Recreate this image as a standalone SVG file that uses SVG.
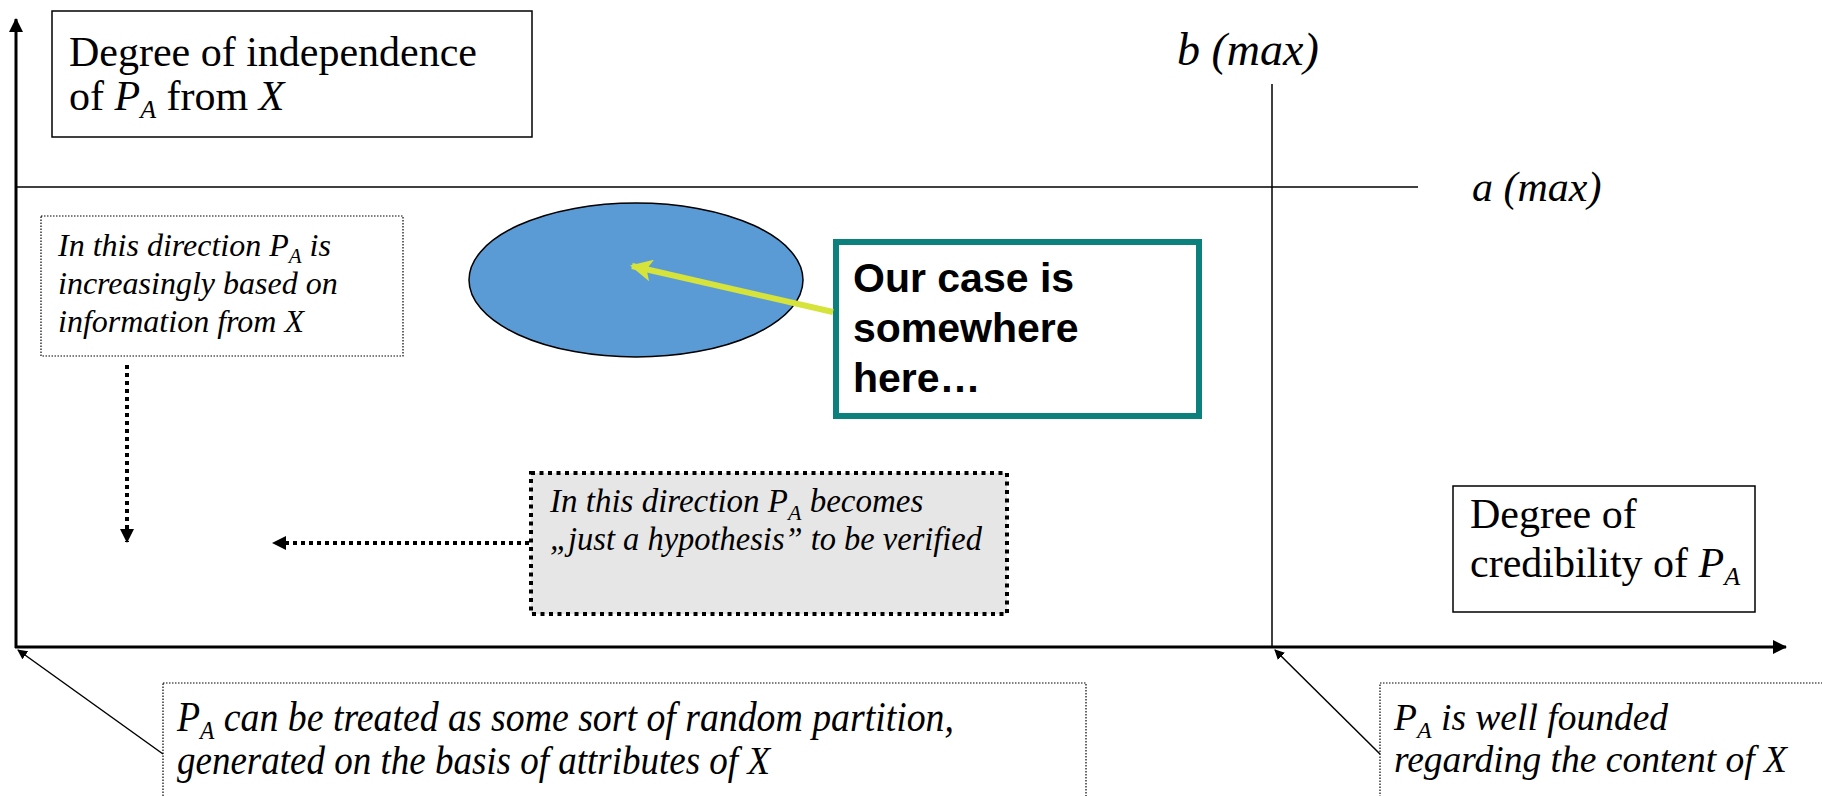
<svg xmlns="http://www.w3.org/2000/svg" width="1822" height="796" viewBox="0 0 1822 796">
<style>
.serif{font-family:"Liberation Serif","Times New Roman",serif;fill:#000}
.it{font-style:italic}
.sans{font-family:"Liberation Sans",Arial,sans-serif;font-weight:bold;fill:#000}
.box{fill:#fff;stroke:#000;stroke-width:1.5}
.dotbox{fill:#fff;stroke:#000;stroke-width:1.2;stroke-dasharray:1.5 1.5}
.ax{stroke:#000;stroke-width:3;fill:none}
.thin{stroke:#000;stroke-width:1.5;fill:none}
.dash{stroke:#000;stroke-width:4;stroke-dasharray:4 4;fill:none}
</style>
<defs>
<marker id="ah" markerWidth="10" markerHeight="10" refX="9" refY="5" orient="auto" markerUnits="userSpaceOnUse" viewBox="0 0 10 10">
<path d="M0,0 L10,5 L0,10 z" fill="#000"/>
</marker>
<marker id="ahb" markerWidth="14" markerHeight="14" refX="13" refY="7" orient="auto" markerUnits="userSpaceOnUse" viewBox="0 0 14 14">
<path d="M0,0 L14,7 L0,14 z" fill="#000"/>
</marker>
<marker id="ahs" markerWidth="14" markerHeight="14" refX="13" refY="7" orient="auto" markerUnits="userSpaceOnUse" viewBox="0 0 14 14">
<path d="M0,0 L14,7 L0,14 z" fill="#000"/>
</marker>
<marker id="ahy" markerWidth="22" markerHeight="22" refX="20" refY="11" orient="auto" markerUnits="userSpaceOnUse" viewBox="0 0 22 22">
<path d="M0,0 L22,11 L0,22 L5,11 z" fill="#D6E33A"/>
</marker>
</defs>
<rect width="1822" height="796" fill="#fff"/>

<g id="label-independence">
<rect class="box" x="52" y="11" width="480" height="126"/>
<text class="serif" font-size="42" x="69" y="66" textLength="408" lengthAdjust="spacingAndGlyphs">Degree of independence</text>
<text class="serif" font-size="42" x="69" y="110">of <tspan class="it">P</tspan><tspan class="it" font-size="26" dy="8">A</tspan><tspan dy="-8"> from </tspan><tspan class="it">X</tspan></text>
</g>

<g id="label-bmax">
<text class="serif it" font-size="46" x="1177" y="65">b (max)</text>
</g>
<g id="label-amax">
<text class="serif it" font-size="42" x="1472" y="201">a (max)</text>
</g>

<g id="note-increasing">
<rect class="dotbox" x="41" y="216" width="362" height="140"/>
<text class="serif it" font-size="32" x="58" y="256">In this direction P<tspan font-size="21" dy="7">A</tspan><tspan dy="-7"> is</tspan></text>
<text class="serif it" font-size="32" x="58" y="294">increasingly based on</text>
<text class="serif it" font-size="32" x="58" y="332">information from X</text>
</g>

<g id="ellipse-case">
<ellipse cx="636" cy="280" rx="167" ry="77" fill="#5B9BD5" stroke="#000" stroke-width="1.5"/>
</g>

<g id="callout-case">
<rect x="836" y="242" width="363" height="174" fill="#fff" stroke="#0B807D" stroke-width="6"/>
<text class="sans" font-size="41" x="853" y="292">Our case is</text>
<text class="sans" font-size="41" x="853" y="342">somewhere</text>
<text class="sans" font-size="41" x="853" y="392">here…</text>
</g>

<g id="note-hypothesis">
<rect x="531" y="473" width="476" height="141" fill="#E6E6E6" stroke="#000" stroke-width="4" stroke-dasharray="4 4.5"/>
<text class="serif it" font-size="33" x="550" y="512">In this direction P<tspan font-size="22" dy="8">A</tspan><tspan dy="-8"> becomes</tspan></text>
<text class="serif it" font-size="34" x="550" y="550" textLength="432" lengthAdjust="spacingAndGlyphs">„just a hypothesis” to be verified</text>
</g>

<g id="label-credibility">
<rect class="box" x="1453" y="486" width="302" height="126"/>
<text class="serif" font-size="42" x="1470" y="528">Degree of</text>
<text class="serif" font-size="42" x="1470" y="577">credibility of <tspan class="it">P</tspan><tspan class="it" font-size="26" dy="8">A</tspan></text>
</g>

<g id="note-random">
<rect class="dotbox" x="163" y="683" width="923" height="140"/>
<text class="serif it" font-size="42" transform="translate(177,731) scale(0.9,1)">P<tspan font-size="26" dy="8">A</tspan><tspan dy="-8"> can be treated as  some sort of random partition,</tspan></text>
<text class="serif it" font-size="41" x="177" y="774" textLength="593" lengthAdjust="spacingAndGlyphs">generated on the basis of attributes of X</text>
</g>

<g id="note-founded">
<rect class="dotbox" x="1380" y="683" width="460" height="140"/>
<text class="serif it" font-size="37.5" x="1394" y="730">P<tspan font-size="24" dy="8">A</tspan><tspan dy="-8"> is well founded</tspan></text>
<text class="serif it" font-size="37.5" x="1394" y="772">regarding the content of X</text>
</g>

<g id="connectors">
<line class="ax" x1="16" y1="648" x2="16" y2="19" marker-end="url(#ahb)"/>
<line class="ax" x1="15" y1="647" x2="1786" y2="647" marker-end="url(#ahb)"/>
<line class="thin" x1="16" y1="187" x2="1418" y2="187"/>
<line class="thin" x1="1272" y1="84" x2="1272" y2="647"/>
<line class="dash" x1="127" y1="365" x2="127" y2="542" marker-end="url(#ahs)"/>
<line class="dash" x1="529" y1="543" x2="273" y2="543" marker-end="url(#ahs)"/>
<line stroke="#D6E33A" stroke-width="6" x1="833" y1="312" x2="632" y2="266" marker-end="url(#ahy)"/>
<line class="thin" x1="163" y1="754" x2="18" y2="650" marker-end="url(#ah)"/>
<line class="thin" x1="1380" y1="754" x2="1275" y2="650" marker-end="url(#ah)"/>
</g>
</svg>
